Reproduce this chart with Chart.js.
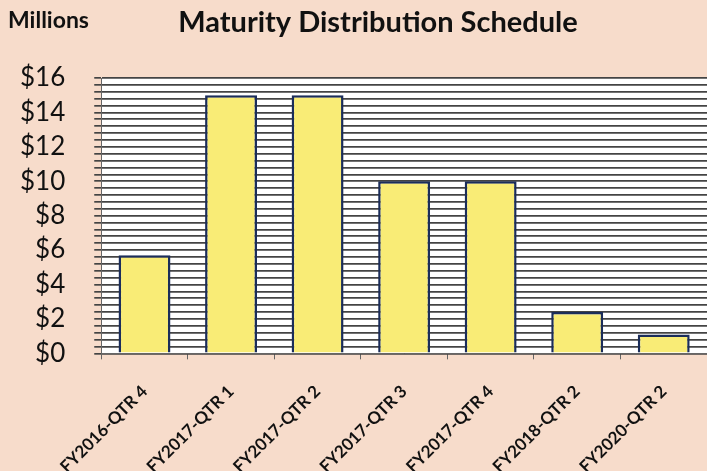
<!DOCTYPE html>
<html>
<head>
<meta charset="utf-8">
<script src="https://cdn.jsdelivr.net/npm/chart.js@4/dist/chart.umd.min.js"></script>
<style>
  html, body { margin: 0; padding: 0; background: #f7dccb; }
  #wrap { width: 707px; height: 471px; position: relative; }
</style>
</head>
<body>
<div id="wrap"><canvas id="chart"></canvas></div>
<script>
const quarters = ['FY2016-QTR 4', 'FY2017-QTR 1', 'FY2017-QTR 2', 'FY2017-QTR 3',
                  'FY2017-QTR 4', 'FY2018-QTR 2', 'FY2020-QTR 2'];
const maturingMillions = [5.7, 15, 15, 10, 10, 2.4, 1.1];
const yMax = 16;
const gridStep = 0.4;   // fine horizontal lines, labels only every $2
const labelEvery = 2;

const chartTitle = 'Maturity Distribution Schedule';
const unitLabel = 'Millions';

// white plot area + header texts
const backdrop = {
    id: 'backdrop',
    beforeDraw(chart) {
        const { ctx, chartArea } = chart;
        ctx.save();
        ctx.fillStyle = '#ffffff';
        ctx.fillRect(chartArea.left, chartArea.top, chartArea.right - chartArea.left, chartArea.bottom - chartArea.top);
        ctx.restore();
    },
    afterDraw(chart) {
        const ctx = chart.ctx;
        ctx.save();
        ctx.fillStyle = '#111';
        ctx.textBaseline = 'middle';
        ctx.font = 'bold 23px Lato';
        ctx.textAlign = 'left';
        ctx.fillText(unitLabel, 8, 21);
        ctx.font = 'bold 29px Lato';
        ctx.textAlign = 'center';
        ctx.fillText(chartTitle, 378, 23);
        ctx.restore();
    }
};

const ctx = document.getElementById('chart');
const chart = new Chart(ctx, {
    type: 'bar',
    data: {
        labels: quarters,
        datasets: [{
            label: 'Maturing',
            data: maturingMillions,
            backgroundColor: '#f9ec76',
            borderColor: '#1b2d5a',
            borderWidth: 2.5,
            categoryPercentage: 1,
            barPercentage: 0.6
        }]
    },
    options: {
        responsive: true,
        maintainAspectRatio: false,
        animation: false,
        layout: { padding: { top: 78, left: -9, right: -4, bottom: -28 } },
        plugins: {
            legend: { display: false },
            title: { display: false },
            tooltip: { enabled: false }
        },
        scales: {
            x: {
                offset: true,
                grid: {
                    offset: true,
                    drawOnChartArea: false,
                    drawTicks: true,
                    tickLength: 6,
                    color: '#666'
                },
                border: { color: '#666', width: 1 },
                ticks: {
                    maxRotation: 45,
                    minRotation: 45,
                    autoSkip: false,
                    color: '#111',
                    font: { family: 'Lato', weight: 'bold', size: 17 },
                    padding: 22
                }
            },
            y: {
                min: 0,
                max: yMax,
                grid: {
                    color: '#444',
                    lineWidth: 1.7,
                    tickLength: 7
                },
                border: { color: '#666', width: 1 },
                ticks: {
                    stepSize: gridStep,
                    autoSkip: false,
                    color: '#111',
                    padding: 29,
                    font: { family: 'Lato', size: 26 },
                    callback: function (v) {
                        const r = Math.round(v);
                        if (Math.abs(v - r) < 1e-6 && r % labelEvery === 0) return '$' + r;
                        return '';
                    }
                }
            }
        }
    },
    plugins: [backdrop]
});
</script>
</body>
</html>
